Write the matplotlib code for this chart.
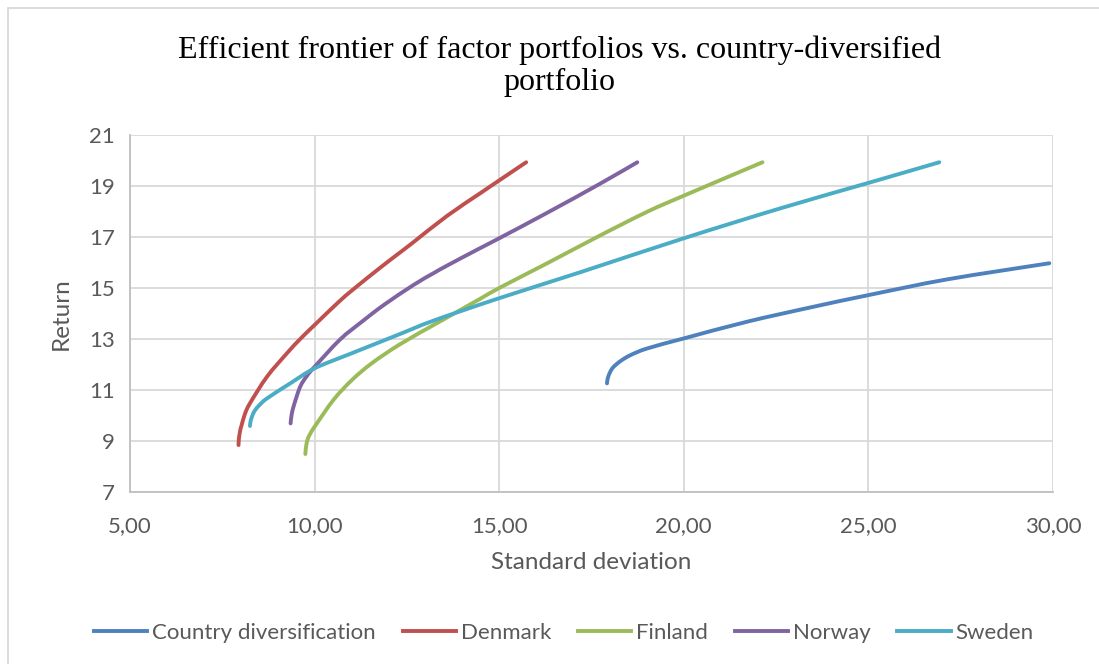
import matplotlib
matplotlib.use("Agg")
import matplotlib.pyplot as plt
from matplotlib.patches import Rectangle, PathPatch
from matplotlib.path import Path

# values (standard deviation, return)
country_sd = [17.92, 17.94, 18.01, 18.10, 18.30, 18.56, 19.01, 20.02, 21.72,
              23.53, 25.03, 27.14, 29.90]
country_ret = [11.26, 11.46, 11.72, 11.91, 12.15, 12.37, 12.63, 13.03, 13.68,
               14.27, 14.73, 15.34, 15.97]

denmark_sd = [7.94, 7.95, 7.99, 8.02, 8.11, 8.25, 8.71, 9.25, 9.61, 10.00,
              10.65, 11.05, 11.78, 12.32, 12.68, 13.58, 14.49, 15.00, 15.73]
denmark_ret = [8.84, 9.10, 9.45, 9.60, 10.05, 10.48, 11.52, 12.44, 13.00,
               13.55, 14.45, 14.95, 15.80, 16.40, 16.80, 17.82, 18.72, 19.22,
               19.93]

finland_sd = [9.75, 9.77, 9.82, 9.90, 10.00, 10.51, 11.01, 11.55, 12.32,
              13.41, 14.49, 15.00, 16.30, 17.72, 19.01, 20.00, 22.13]
finland_ret = [8.49, 8.80, 9.10, 9.33, 9.56, 10.61, 11.39, 12.05, 12.80,
               13.70, 14.58, 15.00, 15.97, 17.05, 17.99, 18.62, 19.93]

norway_sd = [9.35, 9.38, 9.45, 9.61, 9.79, 10.00, 10.69, 11.30, 11.87, 12.68,
             13.22, 13.59, 14.40, 15.00, 16.30, 17.72, 18.74]
norway_ret = [9.69, 10.05, 10.45, 11.13, 11.55, 11.91, 12.98, 13.70, 14.33,
              15.12, 15.58, 15.88, 16.50, 16.95, 17.95, 19.08, 19.93]

sweden_sd = [8.25, 8.26, 8.28, 8.34, 8.41, 8.50, 8.71, 9.34, 10.00, 10.97,
             11.42, 12.32, 13.22, 15.00, 17.20, 20.00, 22.63, 25.02, 26.92]
sweden_ret = [9.59, 9.72, 9.85, 10.09, 10.25, 10.40, 10.67, 11.26, 11.85,
              12.42, 12.68, 13.20, 13.72, 14.60, 15.62, 16.95, 18.13, 19.13,
              19.93]

series = [
    ("Country diversification", country_sd, country_ret, "#4F81BD"),
    ("Denmark", denmark_sd, denmark_ret, "#C0504D"),
    ("Finland", finland_sd, finland_ret, "#9BBB59"),
    ("Norway", norway_sd, norway_ret, "#8064A2"),
    ("Sweden", sweden_sd, sweden_ret, "#4BACC6"),
]

x_ticks = [5, 10, 15, 20, 25, 30]
y_ticks = [7, 9, 11, 13, 15, 17, 19, 21]

grey = "#595959"


def smooth_path(xs, ys):
    """Excel style smoothed line: Catmull-Rom segments as cubic Beziers"""
    pts = list(zip(xs, ys))
    verts = [pts[0]]
    codes = [Path.MOVETO]
    n = len(pts)
    for i in range(n - 1):
        p0 = pts[max(i - 1, 0)]
        p1 = pts[i]
        p2 = pts[i + 1]
        p3 = pts[min(i + 2, n - 1)]
        c1 = (p1[0] + (p2[0] - p0[0]) / 6, p1[1] + (p2[1] - p0[1]) / 6)
        c2 = (p2[0] - (p3[0] - p1[0]) / 6, p2[1] - (p3[1] - p1[1]) / 6)
        verts += [c1, c2, p2]
        codes += [Path.CURVE4] * 3
    return Path(verts, codes)


def main():
    fig = plt.figure(figsize=(10.99, 6.64), dpi=100)
    ax = fig.add_axes([130 / 1099, 1 - 492 / 664,
                       (1053 - 130) / 1099, (492 - 135) / 664])

    for name, sd, ret, col in series:
        ax.add_patch(PathPatch(smooth_path(sd, ret), fill=False,
                               edgecolor=col, lw=2.8, capstyle="round",
                               joinstyle="round", zorder=3))
        ax.plot([], [], color=col, lw=2.8, label=name)

    ax.set_xlim(5, 30)
    ax.set_ylim(7, 21)
    ax.set_xticks(x_ticks)
    ax.set_xticklabels([f"{t:.2f}".replace(".", ",") for t in x_ticks])
    ax.set_yticks(y_ticks)
    ax.grid(True, color="#D9D9D9", lw=1.3, zorder=0)
    ax.set_axisbelow(True)
    for s in ["top", "right"]:
        ax.spines[s].set_visible(False)
    for s in ["left", "bottom"]:
        ax.spines[s].set_color("#BFBFBF")
        ax.spines[s].set_linewidth(1.3)
    ax.tick_params(length=0, labelsize=16, labelcolor=grey)
    ax.tick_params(axis="x", pad=17)
    ax.tick_params(axis="y", pad=11)
    for lab in ax.get_xticklabels() + ax.get_yticklabels():
        lab.set_fontfamily("Lato")

    ax.set_xlabel("Standard deviation", fontsize=17.5, color=grey,
                  family="Lato", labelpad=12)
    ax.set_ylabel("Return", fontsize=17.5, color=grey, family="Lato",
                  labelpad=12)

    fig.text(0.509, 1 - 66 / 664,
             "Efficient frontier of factor portfolios vs. country-diversified\nportfolio",
             ha="center", va="center", fontsize=23, family="Liberation Serif",
             linespacing=1.15)

    fig.legend(loc="center", bbox_to_anchor=(0.513, 1 - 633 / 664), ncol=5,
               frameon=False, prop={"family": "Lato", "size": 16},
               labelcolor=grey, handlelength=2.4, handletextpad=0.22,
               columnspacing=1.2)

    fig.patches.append(Rectangle((8 / 1099, -0.02), 1.0, 1 - 8 / 664 + 0.02,
                                 transform=fig.transFigure, fill=False,
                                 edgecolor="#D9D9D9", lw=1.3))

    fig.savefig("out.png", dpi=100)


if __name__ == "__main__":
    main()
